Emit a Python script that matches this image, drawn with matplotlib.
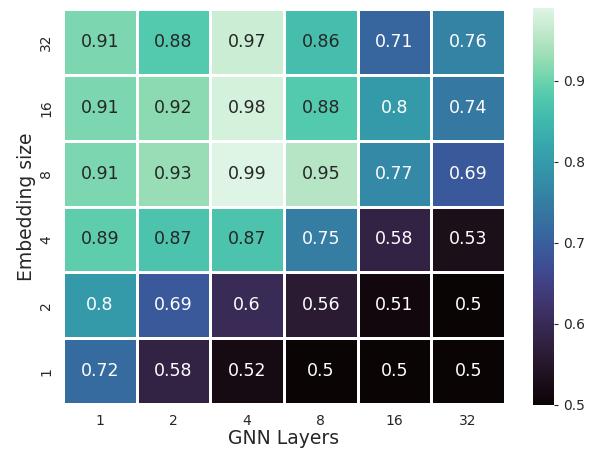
import numpy as np
import matplotlib
matplotlib.use("Agg")
import matplotlib.pyplot as plt
import seaborn as sns

gnn_layers = [1, 2, 4, 8, 16, 32]
embedding_sizes = [1, 2, 4, 8, 16, 32]

# rows: embedding size 1, 2, 4, 8, 16, 32
scores = np.array([
    [0.72, 0.58, 0.52, 0.50, 0.50, 0.50],
    [0.80, 0.69, 0.60, 0.56, 0.51, 0.50],
    [0.89, 0.87, 0.87, 0.75, 0.58, 0.53],
    [0.91, 0.93, 0.99, 0.95, 0.77, 0.69],
    [0.91, 0.92, 0.98, 0.88, 0.80, 0.74],
    [0.91, 0.88, 0.97, 0.86, 0.71, 0.76],
])

sns.set_theme(style="white")
fig = plt.figure(figsize=(5.9, 4.53), dpi=100)
W, H = 590, 453
ax = fig.add_axes([63 / W, 1 - 404 / H, (505 - 63) / W, (404 - 9) / H])
cax = fig.add_axes([533 / W, 1 - 405 / H, 21 / W, (405 - 8) / H])
sns.heatmap(scores, annot=True, cmap="mako", linewidths=0.8, linecolor="white",
            xticklabels=gnn_layers, yticklabels=embedding_sizes,
            annot_kws={"fontsize": 12.5}, ax=ax, cbar_ax=cax)
ax.invert_yaxis()
ax.set_xlabel("GNN Layers", fontsize=13.5, labelpad=1)
ax.set_ylabel("Embedding size", fontsize=13.5, labelpad=2)
ax.tick_params(axis="x", labelsize=10, pad=1)
ax.tick_params(axis="y", labelsize=10, pad=1)
cax.tick_params(size=3, width=0.8, direction="out", colors="#262626", labelsize=10)
cax.set_yticks([0.5, 0.6, 0.7, 0.8, 0.9])
fig.savefig("out.png")
